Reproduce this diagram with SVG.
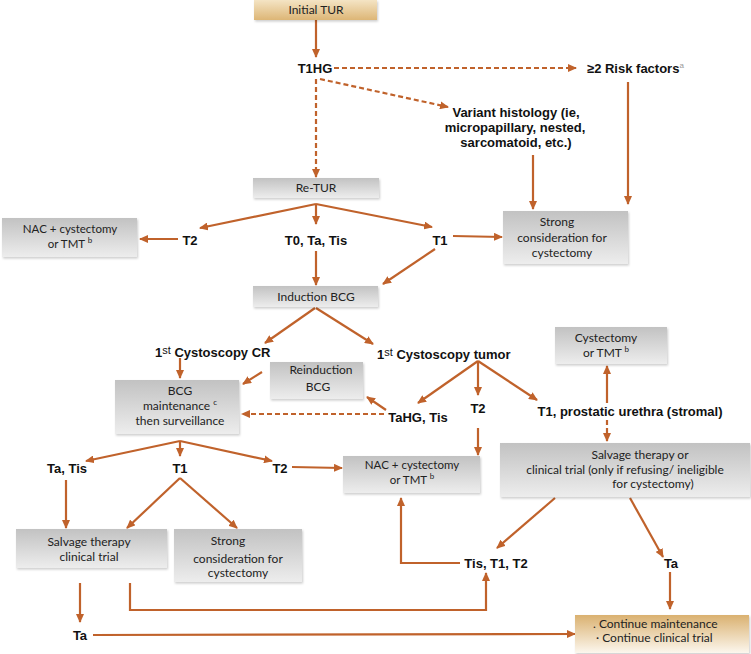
<svg xmlns="http://www.w3.org/2000/svg" width="751" height="654" viewBox="0 0 751 654">
<style>
.lbl{font-family:"Liberation Sans",Arial,sans-serif;font-weight:bold;font-size:13px;fill:#111}
.bx{font-family:Lato,"Open Sans",sans-serif;font-size:12px;fill:#222}
.sm{font-size:11.5px}
.sup{font-size:8px}
.c{text-anchor:middle}
.gray{fill:url(#gg);filter:url(#sh)}
.gold{filter:url(#sh)}
.ln{fill:none;stroke:#c0622b;stroke-width:2.2}
.dash{stroke-dasharray:5 3}
</style>
<defs>
<linearGradient id="gg" x1="0" y1="0" x2="0" y2="1"><stop offset="0" stop-color="#c2c2c2"/><stop offset="1" stop-color="#ededed"/></linearGradient>
<linearGradient id="gold1" x1="0" y1="0" x2="0" y2="1"><stop offset="0" stop-color="#f4e4c4"/><stop offset="1" stop-color="#ddb676"/></linearGradient>
<linearGradient id="gold2" x1="0" y1="0" x2="0" y2="1"><stop offset="0" stop-color="#dab170"/><stop offset="1" stop-color="#fcf7ee"/></linearGradient>
<filter id="sh" x="-5%" y="-10%" width="115%" height="130%"><feDropShadow dx="1" dy="1.5" stdDeviation="1" flood-color="#000" flood-opacity="0.2"/></filter>
<marker id="ar" markerUnits="userSpaceOnUse" markerWidth="9" markerHeight="8" refX="8" refY="4" orient="auto"><path d="M0,0 L9,4 L0,8 z" fill="#c0622b"/></marker>
</defs>

<g id="connectors">
<path class="ln" d="M316,20 V57" marker-end="url(#ar)"/>
<path class="ln dash" d="M334,68 H576" marker-end="url(#ar)"/>
<path class="ln dash" d="M320,79 L448,107" marker-end="url(#ar)"/>
<path class="ln dash" d="M316,79 V177" marker-end="url(#ar)"/>
<path class="ln" d="M533,155 V209" marker-end="url(#ar)"/>
<path class="ln" d="M628,82 V204" marker-end="url(#ar)"/>
<path class="ln" d="M316,204 L200,228" marker-end="url(#ar)"/>
<path class="ln" d="M316,204 V224" marker-end="url(#ar)"/>
<path class="ln" d="M316,204 L432,227" marker-end="url(#ar)"/>
<path class="ln" d="M178,239 H140" marker-end="url(#ar)"/>
<path class="ln" d="M316,251 V285" marker-end="url(#ar)"/>
<path class="ln" d="M453,236 L502,237" marker-end="url(#ar)"/>
<path class="ln" d="M435,249 L383,284" marker-end="url(#ar)"/>
<path class="ln" d="M315,308 L265,343" marker-end="url(#ar)"/>
<path class="ln" d="M316,308 L373,344" marker-end="url(#ar)"/>
<path class="ln" d="M180,358 V378" marker-end="url(#ar)"/>
<path class="ln" d="M262,372 L243,384" marker-end="url(#ar)"/>
<path class="ln" d="M386,410 L367,397" marker-end="url(#ar)"/>
<path class="ln dash" d="M384,414 H242" marker-end="url(#ar)"/>
<path class="ln" d="M478,361 L418,403" marker-end="url(#ar)"/>
<path class="ln" d="M478,361 V395" marker-end="url(#ar)"/>
<path class="ln" d="M478,361 L537,400" marker-end="url(#ar)"/>
<path class="ln" d="M607,403 V366" marker-end="url(#ar)"/>
<path class="ln dash" d="M607,420 V441" marker-end="url(#ar)"/>
<path class="ln" d="M478,428 V455" marker-end="url(#ar)"/>
<path class="ln" d="M180,441 L86,461" marker-end="url(#ar)"/>
<path class="ln" d="M180,441 V456" marker-end="url(#ar)"/>
<path class="ln" d="M180,441 L272,461" marker-end="url(#ar)"/>
<path class="ln" d="M292,467 L342,468" marker-end="url(#ar)"/>
<path class="ln" d="M66,480 V528" marker-end="url(#ar)"/>
<path class="ln" d="M180,478 L127,528" marker-end="url(#ar)"/>
<path class="ln" d="M180,478 L237,528" marker-end="url(#ar)"/>
<path class="ln" d="M80,583 V622" marker-end="url(#ar)"/>
<path class="ln" d="M130,583 V610 H486 V573" marker-end="url(#ar)"/>
<path class="ln" d="M93,635 L575,634" marker-end="url(#ar)"/>
<path class="ln" d="M460,563 H401 V498" marker-end="url(#ar)"/>
<path class="ln" d="M555,498 L497,548" marker-end="url(#ar)"/>
<path class="ln" d="M630,498 L663,557" marker-end="url(#ar)"/>
<path class="ln" d="M670,572 V609" marker-end="url(#ar)"/>
</g>

<g id="initial-tur"><rect x="254" y="0" width="123" height="20" fill="url(#gold1)" class="gold"/><text class="bx c" x="316" y="14">Initial TUR</text></g>
<g id="t1hg"><text class="lbl c" x="315" y="72.5">T1HG</text></g>
<g id="risk-factors"><text class="lbl" x="587" y="73">≥2 Risk factors<tspan class="sup" dy="-5" fill="#999" font-weight="normal">a</tspan></text></g>
<g id="variant-histology"><text class="lbl c" x="516" y="116.5">Variant histology (ie,</text><text class="lbl c" x="515" y="131.5">micropapillary, nested,</text><text class="lbl c" x="516" y="146.5">sarcomatoid, etc.)</text></g>
<g id="re-tur"><rect x="253" y="178" width="126" height="20" class="gray"/><text class="bx c" x="316" y="192">Re-TUR</text></g>
<g id="nac-1"><rect x="2" y="218" width="135" height="39" class="gray"/><text class="bx sm c" x="70" y="233">NAC + cystectomy</text><text class="bx sm c" x="70" y="247.5">or TMT <tspan class="sup" dy="-5">b</tspan></text></g>
<g id="t2-a"><text class="lbl c" x="190" y="244.5">T2</text></g>
<g id="t0-ta-tis"><text class="lbl c" x="316" y="244.5">T0, Ta, Tis</text></g>
<g id="t1-a"><text class="lbl c" x="440" y="244.5">T1</text></g>
<g id="strong-1"><rect x="503" y="211" width="125" height="53" class="gray"/><text class="bx c" x="557" y="226">Strong</text><text class="bx c" x="562" y="242">consideration for</text><text class="bx c" x="562" y="257">cystectomy</text></g>
<g id="induction-bcg"><rect x="253" y="286" width="125" height="21" class="gray"/><text class="bx c" x="316" y="300.5">Induction BCG</text></g>
<g id="cysto-cr"><text class="lbl" x="155" y="356.5">1<tspan font-weight="normal" font-size="11" dy="-3">st</tspan><tspan dy="3"> Cystoscopy CR</tspan></text></g>
<g id="cysto-tumor"><text class="lbl" x="377" y="358.5">1<tspan font-weight="normal" font-size="11" dy="-3">st</tspan><tspan dy="3"> Cystoscopy tumor</tspan></text></g>
<g id="reinduction"><rect x="270" y="362" width="93" height="37" class="gray"/><text class="bx c" x="321" y="374">Reinduction</text><text class="bx c" x="318" y="391">BCG</text></g>
<g id="bcg-maint"><rect x="115" y="380" width="124" height="54" class="gray"/><text class="bx c" x="180" y="394.5">BCG</text><text class="bx c" x="180" y="409.5">maintenance <tspan class="sup" dy="-5">c</tspan></text><text class="bx c" x="180" y="424.5">then surveillance</text></g>
<g id="tahg-tis"><text class="lbl c" x="418" y="421.5">TaHG, Tis</text></g>
<g id="t2-b"><text class="lbl c" x="478" y="412.5">T2</text></g>
<g id="t1-prostatic"><text class="lbl c" x="630" y="415.5">T1, prostatic urethra (stromal)</text></g>
<g id="cystectomy-tmt"><rect x="555" y="327" width="112" height="37" class="gray"/><text class="bx c" x="606" y="342">Cystectomy</text><text class="bx c" x="606" y="357">or TMT <tspan class="sup" dy="-5">b</tspan></text></g>
<g id="salvage-right"><rect x="500" y="443" width="250" height="54" class="gray"/><text class="bx c" x="640" y="459">Salvage therapy or</text><text class="bx c" x="625" y="473.5">clinical trial (only if refusing/ ineligible</text><text class="bx c" x="653" y="488">for cystectomy)</text></g>
<g id="nac-2"><rect x="343" y="456" width="137" height="37" class="gray"/><text class="bx sm c" x="412" y="469">NAC + cystectomy</text><text class="bx sm c" x="412" y="483.5">or TMT <tspan class="sup" dy="-5">b</tspan></text></g>
<g id="ta-tis"><text class="lbl c" x="67" y="472.5">Ta, Tis</text></g>
<g id="t1-b"><text class="lbl c" x="180" y="472.5">T1</text></g>
<g id="t2-c"><text class="lbl c" x="280" y="472.5">T2</text></g>
<g id="salvage-left"><rect x="16" y="529" width="151" height="39" class="gray"/><text class="bx c" x="89" y="546">Salvage therapy</text><text class="bx c" x="89" y="561">clinical trial</text></g>
<g id="strong-2"><rect x="174" y="529" width="128" height="53" class="gray"/><text class="bx c" x="228" y="545">Strong</text><text class="bx c" x="238" y="563">consideration for</text><text class="bx c" x="238" y="577">cystectomy</text></g>
<g id="ta-left"><text class="lbl c" x="80" y="639.5">Ta</text></g>
<g id="tis-t1-t2"><text class="lbl c" x="496" y="567.5">Tis, T1, T2</text></g>
<g id="ta-right"><text class="lbl c" x="671" y="567.5">Ta</text></g>
<g id="continue"><rect x="575" y="615" width="174" height="38" fill="url(#gold2)" class="gold"/><text class="bx" x="593" y="628">. Continue maintenance</text><text class="bx" x="596" y="642">·  Continue clinical trial</text></g>
</svg>
